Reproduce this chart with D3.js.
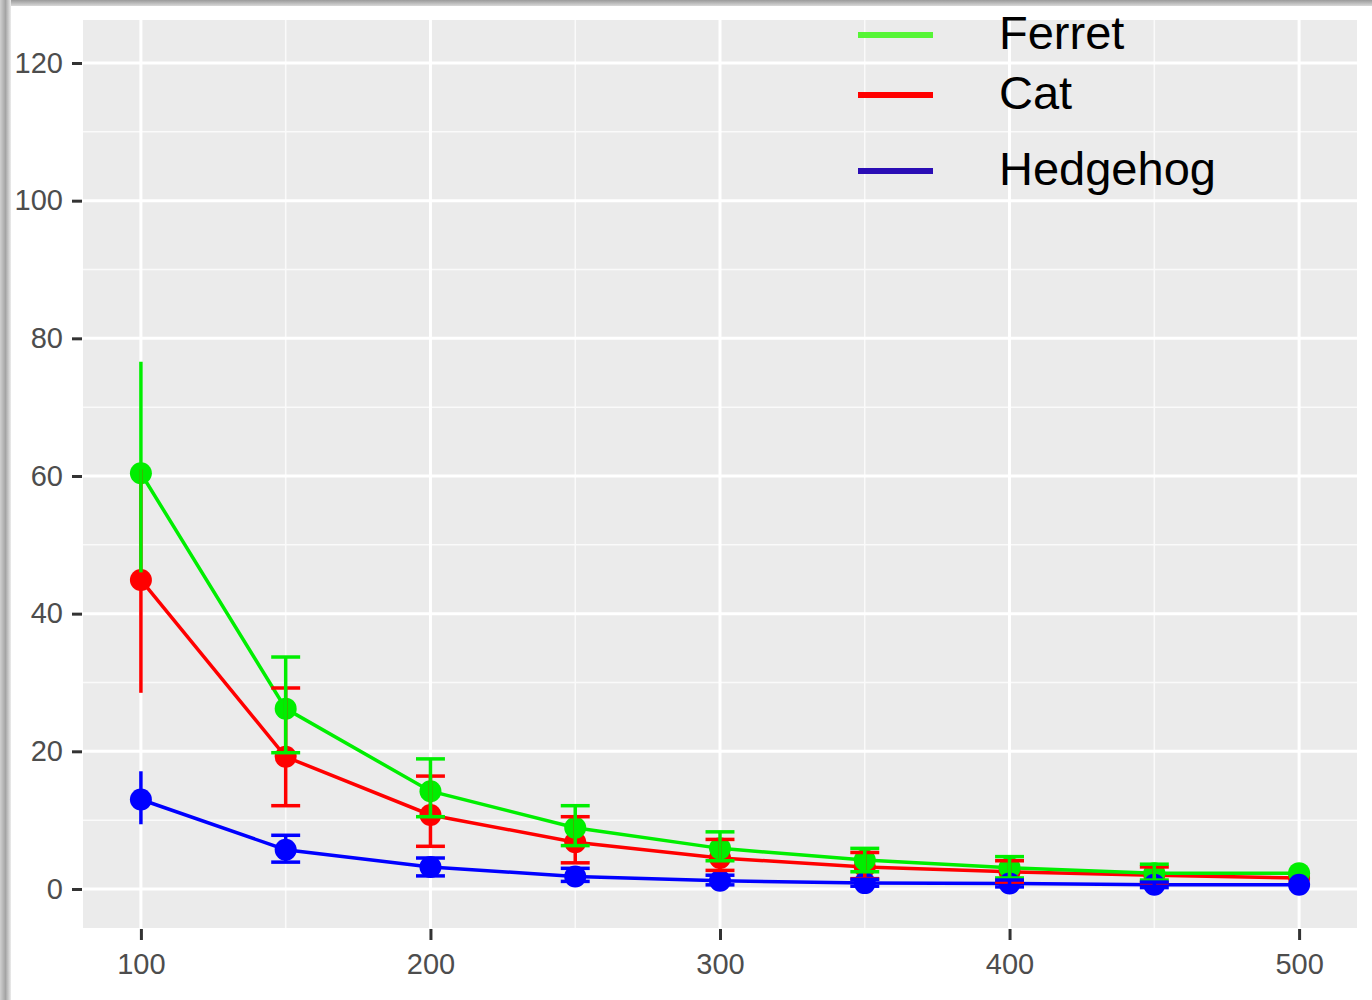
<!DOCTYPE html>
<html>
<head>
<meta charset="utf-8">
<script src="https://cdn.jsdelivr.net/npm/d3@7"></script>
<style>
  body { margin: 0; background: #fff; }
  svg { display: block; font-family: "Liberation Sans", Arial, sans-serif; }
</style>
</head>
<body>
<svg id="chart" width="1372" height="1000"></svg>
<script>
// values
const xs = [100, 150, 200, 250, 300, 350, 400, 450, 500];

const catMean = [44.9, 19.2, 10.75, 6.8, 4.5, 3.2, 2.5, 2.0, 1.6];
const catHi   = [61.0, 29.2, 16.4, 10.5, 7.2, 5.3, 4.1, 3.2, 1.6];
const catLo   = [28.5, 12.1, 6.2, 3.8, 2.7, 1.5, 1.0, 0.9, 1.6];

const ferretMean = [60.4, 26.2, 14.2, 8.9, 5.9, 4.2, 3.1, 2.3, 2.3];
const ferretHi   = [76.6, 33.7, 18.9, 12.1, 8.3, 5.9, 4.7, 3.6, 2.3];
const ferretLo   = [46.0, 19.8, 10.5, 6.3, 4.1, 2.5, 1.6, 1.3, 2.3];

const hedgehogMean = [13.0, 5.7, 3.2, 1.8, 1.2, 0.85, 0.8, 0.6, 0.6];
const hedgehogHi   = [17.1, 7.8, 4.5, 3.0, 2.0, 1.4, 1.3, 1.0, 0.6];
const hedgehogLo   = [9.4, 3.9, 1.9, 1.1, 0.6, 0.4, 0.3, 0.2, 0.6];

const xTicks = [100, 200, 300, 400, 500];
const yTicks = [0, 20, 40, 60, 80, 100, 120];

// drawing order is alphabetical like ggplot (Cat, Ferret, Hedgehog)
const series = [
  { name: "Cat", color: "#ff0000", mean: catMean, hi: catHi, lo: catLo },
  { name: "Ferret", color: "#00ee00", mean: ferretMean, hi: ferretHi, lo: ferretLo },
  { name: "Hedgehog", color: "#0000ff", mean: hedgehogMean, hi: hedgehogHi, lo: hedgehogLo }
];

// legend order and colours as shown in the picture
const legendItems = [
  { name: "Ferret", color: "#55f535" },
  { name: "Cat", color: "#ff0000" },
  { name: "Hedgehog", color: "#2a0db5" }
];

const svg = d3.select("#chart");

// the screenshot drop shadow along top and left
const defs = svg.append("defs");
const gTop = defs.append("linearGradient").attr("id", "shTop").attr("x1", 0).attr("y1", 0).attr("x2", 0).attr("y2", 1);
gTop.append("stop").attr("offset", "0%").attr("stop-color", "#9a9a9a");
gTop.append("stop").attr("offset", "100%").attr("stop-color", "#d8d8d8");
const gLeft = defs.append("linearGradient").attr("id", "shLeft").attr("x1", 0).attr("y1", 0).attr("x2", 1).attr("y2", 0);
gLeft.append("stop").attr("offset", "0%").attr("stop-color", "#d0d0d0");
gLeft.append("stop").attr("offset", "50%").attr("stop-color", "#a4a4a4");
gLeft.append("stop").attr("offset", "100%").attr("stop-color", "#ececec");
svg.append("rect").attr("x", 0).attr("y", 0).attr("width", 1372).attr("height", 6).attr("fill", "url(#shTop)");
svg.append("rect").attr("x", 0).attr("y", 0).attr("width", 11).attr("height", 1000).attr("fill", "url(#shLeft)");

const panel = { left: 83, right: 1357, top: 20, bottom: 928 };

const x = d3.scaleLinear().domain([80, 520]).range([panel.left, panel.right]);
const y = d3.scaleLinear().domain([-5.67, 126.25]).range([panel.bottom, panel.top]);

svg.append("rect")
  .attr("x", panel.left).attr("y", panel.top)
  .attr("width", panel.right - panel.left).attr("height", panel.bottom - panel.top)
  .attr("fill", "#ebebeb");

// minor grid
const xMinor = [150, 250, 350, 450];
const yMinor = [10, 30, 50, 70, 90, 110];
const grid = svg.append("g");
grid.selectAll(".xmin").data(xMinor).join("line")
  .attr("x1", d => x(d)).attr("x2", d => x(d))
  .attr("y1", panel.top).attr("y2", panel.bottom)
  .attr("stroke", "#fafafa").attr("stroke-width", 1.5);
grid.selectAll(".ymin").data(yMinor).join("line")
  .attr("x1", panel.left).attr("x2", panel.right)
  .attr("y1", d => y(d)).attr("y2", d => y(d))
  .attr("stroke", "#fafafa").attr("stroke-width", 1.5);
// major grid
grid.selectAll(".xmaj").data(xTicks).join("line")
  .attr("x1", d => x(d)).attr("x2", d => x(d))
  .attr("y1", panel.top).attr("y2", panel.bottom)
  .attr("stroke", "#fff").attr("stroke-width", 3);
grid.selectAll(".ymaj").data(yTicks).join("line")
  .attr("x1", panel.left).attr("x2", panel.right)
  .attr("y1", d => y(d)).attr("y2", d => y(d))
  .attr("stroke", "#fff").attr("stroke-width", 3);

// axes
const xAxis = svg.append("g")
  .attr("transform", `translate(0,${panel.bottom + 1})`)
  .call(d3.axisBottom(x).tickValues(xTicks).tickSize(11).tickPadding(13));
const yAxis = svg.append("g")
  .attr("transform", `translate(${panel.left - 1},0)`)
  .call(d3.axisLeft(y).tickValues(yTicks).tickSize(10).tickPadding(9));
[xAxis, yAxis].forEach(a => {
  a.select(".domain").remove();
  a.selectAll(".tick line").attr("stroke", "#333").attr("stroke-width", 3);
  a.selectAll(".tick text").attr("fill", "#4d4d4d")
    .style("font-size", "29px").style("font-family", "'Liberation Sans', Arial, sans-serif");
});

// data layers: lines, then points, then error bars
const rows = s => xs.map((v, i) => ({ x: v, m: s.mean[i], hi: s.hi[i], lo: s.lo[i], i }));
const line = d3.line().x(d => x(d.x)).y(d => y(d.m));

const plot = svg.append("g");
series.forEach(s => {
  plot.append("path").datum(rows(s))
    .attr("d", line).attr("fill", "none")
    .attr("stroke", s.color).attr("stroke-width", 3.5);
});
series.forEach(s => {
  plot.append("g").selectAll("circle").data(rows(s)).join("circle")
    .attr("cx", d => x(d.x)).attr("cy", d => y(d.m)).attr("r", 11)
    .attr("fill", s.color);
});
const capHalf = 5;
series.forEach(s => {
  const g = plot.append("g").attr("stroke", s.color).attr("stroke-width", 3.5);
  const data = rows(s);
  g.selectAll(".v").data(data).join("line")
    .attr("x1", d => x(d.x)).attr("x2", d => x(d.x))
    .attr("y1", d => y(d.hi)).attr("y2", d => y(d.lo));
  // end points have no caps in the picture
  const inner = data.filter(d => d.i > 0 && d.i < xs.length - 1);
  ["hi", "lo"].forEach(k => {
    g.selectAll(".c" + k).data(inner).join("line")
      .attr("x1", d => x(d.x - capHalf)).attr("x2", d => x(d.x + capHalf))
      .attr("y1", d => y(d[k])).attr("y2", d => y(d[k]));
  });
});

// legend inside the panel, top right
const legendY = [35, 95, 171];
const legend = svg.append("g");
legendItems.forEach((d, i) => {
  legend.append("line")
    .attr("x1", 858).attr("x2", 933)
    .attr("y1", legendY[i]).attr("y2", legendY[i])
    .attr("stroke", d.color).attr("stroke-width", 6);
  legend.append("text")
    .attr("x", 999).attr("y", legendY[i] + 14)
    .attr("fill", "#000").style("font-size", "47px")
    .text(d.name);
});
</script>
</body>
</html>
